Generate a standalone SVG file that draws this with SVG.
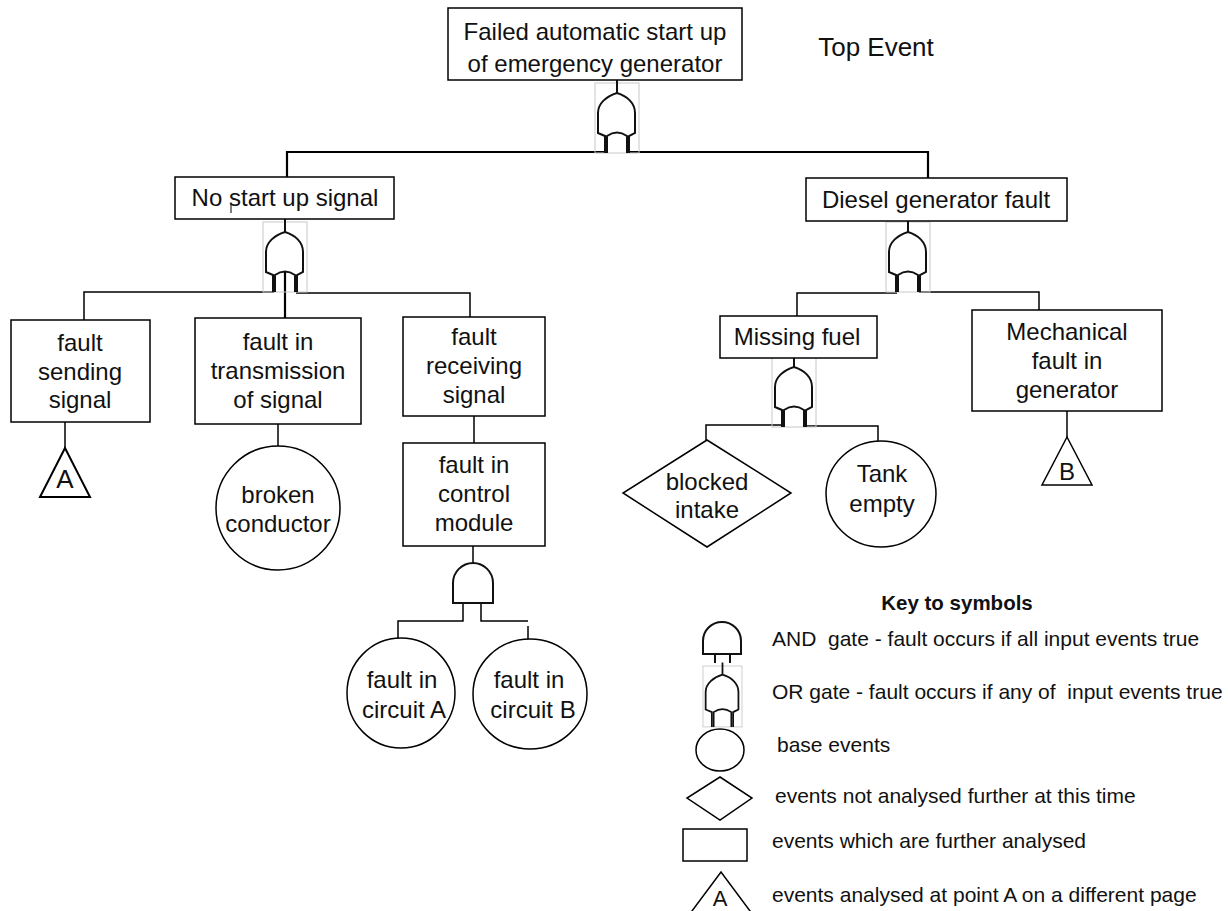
<svg xmlns="http://www.w3.org/2000/svg" width="1228" height="911" viewBox="0 0 1228 911">
<style>
.box{fill:#fff;stroke:#000;stroke-width:1.5}
.t{font-family:"Liberation Sans",Arial,sans-serif;font-size:24px;fill:#111;text-anchor:middle}
.lg{font-family:"Liberation Sans",Arial,sans-serif;font-size:21px;fill:#111;text-anchor:start}
.ln{stroke:#000;stroke-width:1.5;fill:none}
.ln2{stroke:#000;stroke-width:2.2;fill:none}
.gate{stroke:#111;stroke-width:2;fill:none}
.gbox{stroke:#c8c8c8;stroke-width:1;fill:none}
</style>
<defs>
<g id="or">
<rect class="gbox" x="0" y="0" width="44" height="70"/>
<path class="gate" d="M22,-4 V10"/>
<path class="gate" d="M10,70 V53 L3,50 V30 C3,20 12,13 22,10 C32,13 40,20 40,30 V50 L34,53 V70"/>
<path class="gate" d="M12,70 V53 Q22,46 32,53 V70"/>
</g>
</defs>
<rect width="1228" height="911" fill="#fff"/>
<g id="connectors">
<path class="ln2" d="M287,177 V152 H606"/>
<path class="ln2" d="M628,152 H928 V178"/>
<path class="ln" d="M84,320 V292 H274"/>
<path class="ln" d="M296,293 H470 V317"/>
<path class="ln2" d="M285,272 V318"/>
<path class="ln" d="M474,416 V443"/>
<path class="ln" d="M65,422 V448"/>
<path class="ln" d="M278,424 V447"/>
<path class="ln" d="M473,546 V563"/>
<path class="ln" d="M463,603 V621 H398 V640"/>
<path class="ln" d="M481,603 V621 H528"/>
<path class="ln" d="M528,626 V640"/>
<path class="ln" d="M797,316 V293 H897"/>
<path class="ln" d="M919,292 H1039 V310"/>
<path class="ln" d="M706,440 V425 H783"/>
<path class="ln" d="M805,426 H878 V442"/>
<path class="ln" d="M1067,411 V437"/>
</g>
<g id="gates">
<use href="#or" transform="translate(595,83)"/>
<use href="#or" transform="translate(263,222)"/>
<use href="#or" transform="translate(886,222)"/>
<use href="#or" transform="translate(772,357)"/>
<path class="gate" d="M453,603 V583 A20,20 0 0 1 493,583 V603 Z"/>
</g>
<g id="top">
<rect class="box" x="448" y="8" width="294" height="72"/>
<text class="t" x="595" y="40">Failed automatic start up</text>
<text class="t" x="595" y="72">of emergency generator</text>
</g>
<text id="topevent" class="t" x="876" y="56" style="font-size:26px">Top Event</text>
<g id="nostart">
<rect class="box" x="175" y="177" width="219" height="42"/>
<text class="t" x="285" y="206">No start up signal</text>
<path d="M231,204 V213" stroke="#000" stroke-width="1"/>
</g>
<g id="diesel">
<rect class="box" x="806" y="178" width="261" height="43"/>
<text class="t" x="936" y="208">Diesel generator fault</text>
</g>
<g id="sending">
<rect class="box" x="11" y="320" width="139" height="102"/>
<text class="t" x="80" y="351">fault</text>
<text class="t" x="80" y="380">sending</text>
<text class="t" x="80" y="408">signal</text>
</g>
<g id="transmission">
<rect class="box" x="195" y="318" width="166" height="106"/>
<text class="t" x="278" y="350">fault in</text>
<text class="t" x="278" y="379">transmission</text>
<text class="t" x="278" y="408">of signal</text>
</g>
<g id="receiving">
<rect class="box" x="403" y="317" width="142" height="99"/>
<text class="t" x="474" y="345">fault</text>
<text class="t" x="474" y="374">receiving</text>
<text class="t" x="474" y="403">signal</text>
</g>
<g id="control">
<rect class="box" x="403" y="443" width="142" height="103"/>
<text class="t" x="474" y="473">fault in</text>
<text class="t" x="474" y="502">control</text>
<text class="t" x="474" y="531">module</text>
</g>
<g id="pointA">
<polygon class="box" points="65,448 90,497 40,497" style="stroke-width:2"/>
<text class="t" x="65" y="488" style="font-size:26px">A</text>
</g>
<g id="broken">
<ellipse class="box" cx="278" cy="508" rx="62" ry="62"/>
<text class="t" x="278" y="503">broken</text>
<text class="t" x="278" y="532">conductor</text>
</g>
<g id="circuitA">
<ellipse class="box" cx="401" cy="693" rx="54" ry="55"/>
<text class="t" x="402" y="688">fault in</text>
<text class="t" x="404" y="718">circuit A</text>
</g>
<g id="circuitB">
<ellipse class="box" cx="530" cy="694" rx="57" ry="55"/>
<text class="t" x="529" y="688">fault in</text>
<text class="t" x="533" y="718">circuit B</text>
</g>
<g id="missing">
<rect class="box" x="720" y="316" width="157" height="42"/>
<text class="t" x="797" y="345">Missing fuel</text>
</g>
<g id="mechanical">
<rect class="box" x="972" y="310" width="190" height="101"/>
<text class="t" x="1067" y="340">Mechanical</text>
<text class="t" x="1067" y="369">fault in</text>
<text class="t" x="1067" y="398">generator</text>
</g>
<g id="blocked">
<polygon class="box" points="707,440 791,493 707,547 623,493"/>
<text class="t" x="707" y="490">blocked</text>
<text class="t" x="707" y="518">intake</text>
</g>
<g id="tank">
<ellipse class="box" cx="881" cy="494" rx="55" ry="53"/>
<text class="t" x="882" y="482">Tank</text>
<text class="t" x="882" y="512">empty</text>
</g>
<g id="pointB">
<polygon class="box" points="1067,437 1092,485 1042,485"/>
<text class="t" x="1067" y="480">B</text>
</g>
<g id="legend">
<text class="lg" x="957" y="610" style="font-weight:bold;font-size:20.5px;text-anchor:middle">Key to symbols</text>
<path class="gate" d="M703,654 V641 A19,19 0 0 1 741,641 V654 Z"/>
<path class="gate" d="M715,654 V663 M730,654 V663"/>
<text class="lg" x="772" y="646" xml:space="preserve">AND  gate - fault occurs if all input events true</text>
<use href="#or" transform="translate(703,666) scale(0.886,0.87)"/>
<text class="lg" x="772" y="699" xml:space="preserve">OR gate - fault occurs if any of  input events true</text>
<ellipse class="box" cx="720" cy="750" rx="24" ry="21"/>
<text class="lg" x="777" y="752">base events</text>
<polygon class="box" points="720,777 752,798 720,820 687,798"/>
<text class="lg" x="775" y="803">events not analysed further at this time</text>
<rect class="box" x="683" y="829" width="64" height="32"/>
<text class="lg" x="772" y="848">events which are further analysed</text>
<polyline class="box" points="689,915 721,872 753,915"/>
<text class="t" x="720" y="906" style="font-size:22px">A</text>
<text class="lg" x="772" y="902">events analysed at point A on a different page</text>
</g>
</svg>
